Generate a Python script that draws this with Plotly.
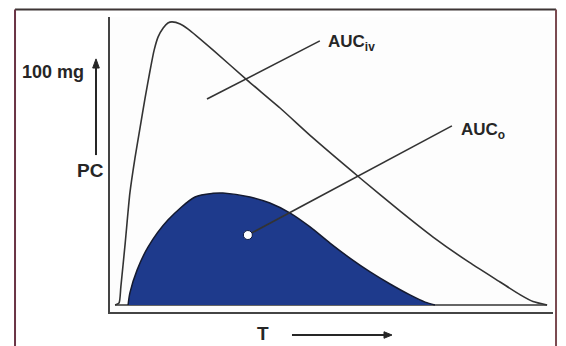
import plotly.graph_objects as go

# ---- data (time in arbitrary units, plasma concentration in % of 100 mg dose) ----
iv_t = [0.14, 0.25, 0.30, 0.42, 0.55, 0.69, 0.83, 0.97, 1.11, 1.22, 1.33, 1.47, 1.60, 1.71,
        1.94, 2.16, 2.85, 3.79, 4.70, 5.61, 6.91, 8.02, 8.93, 9.87, 10.78, 11.33, 11.69, 12.08]
iv_c = [0.0, 0.7, 6.3, 21.5, 38.9, 51.0, 61.5, 71.9, 81.6, 88.5, 93.1, 96.2, 97.9, 98.3,
        97.6, 95.8, 88.5, 78.1, 68.4, 58.0, 44.1, 32.6, 23.6, 15.3, 8.0, 3.6, 1.2, 0.0]

oral_t = [0.50, 0.55, 0.75, 1.05, 1.60, 2.35, 2.85, 3.12, 3.87, 4.42, 4.98,
          5.53, 6.08, 6.63, 7.19, 7.74, 8.29, 8.71, 8.98]
oral_c = [0.0, 4.2, 12.2, 20.1, 29.5, 37.5, 38.8, 38.9, 37.5, 35.4, 31.9,
          27.1, 21.5, 16.3, 11.5, 7.3, 3.5, 1.0, 0.0]

label_iv = "AUC<sub>iv</sub>"
label_o = "AUC<sub>o</sub>"
label_dose = "100 mg"
label_y = "PC"
label_x = "T"

# leader lines: (from point) -> (to point near label)
leader_iv = [(2.68, 71.5), (5.80, 91.7)]
leader_o = [(3.81, 24.3), (9.45, 62.2)]

FONT = "Liberation Sans, Arial, sans-serif"
INK = "#262626"
NAVY = "#1e3a8c"

fig = go.Figure()

# baseline under curves
fig.add_trace(go.Scatter(x=[iv_t[0], iv_t[-1]], y=[0, 0], mode="lines",
                         line=dict(color="#333", width=1.5), hoverinfo="skip"))
# oral curve (filled)
fig.add_trace(go.Scatter(x=oral_t, y=oral_c, mode="lines", fill="tozeroy",
                         fillcolor=NAVY,
                         line=dict(color="#141a30", width=1.5, shape="spline", smoothing=0.8),
                         hoverinfo="skip"))
# iv curve
fig.add_trace(go.Scatter(x=iv_t, y=iv_c, mode="lines",
                         line=dict(color="#333", width=1.6, shape="spline", smoothing=0.6),
                         hoverinfo="skip"))
# leader lines
fig.add_trace(go.Scatter(x=[p[0] for p in leader_iv], y=[p[1] for p in leader_iv], mode="lines",
                         line=dict(color="#333", width=1.6), hoverinfo="skip"))
fig.add_trace(go.Scatter(x=[p[0] for p in leader_o], y=[p[1] for p in leader_o], mode="lines",
                         line=dict(color="#333", width=1.6), hoverinfo="skip"))
# white dot
fig.add_trace(go.Scatter(x=[leader_o[0][0]], y=[leader_o[0][1]], mode="markers",
                         marker=dict(color="white", size=9, line=dict(color="#0d1a40", width=1)),
                         hoverinfo="skip"))

annotations = [
    dict(x=leader_iv[1][0] + 0.17, y=leader_iv[1][1] - 0.7, xref="x", yref="y", text=label_iv,
         showarrow=False, xanchor="left", yanchor="middle",
         font=dict(size=17, color=INK, family=FONT, weight="bold")),
    dict(x=leader_o[1][0] + 0.19, y=leader_o[1][1] - 1.7, xref="x", yref="y", text=label_o,
         showarrow=False, xanchor="left", yanchor="middle",
         font=dict(size=17, color=INK, family=FONT, weight="bold")),
    dict(x=-0.054, y=0.8136, xref="paper", yref="paper", text=label_dose, showarrow=False,
         xanchor="right", yanchor="middle", font=dict(size=18, color=INK, family=FONT, weight="bold")),
    dict(x=-0.009, y=0.478, xref="paper", yref="paper", text=label_y, showarrow=False,
         xanchor="right", yanchor="middle", font=dict(size=19, color=INK, family=FONT, weight="bold")),
    dict(x=0.345, y=-0.0714, xref="paper", yref="paper", text=label_x, showarrow=False,
         xanchor="center", yanchor="middle", font=dict(size=19, color=INK, family=FONT, weight="bold")),
]

# arrows (paper coordinates relative to the plot area)
vx, vy0, vy1, vyb = -0.0316, 0.532, 0.858, 0.827
hy, hx0, hx1, hxb = -0.078, 0.4108, 0.6366, 0.6185
shapes = [
    # frame
    dict(type="line", xref="paper", yref="paper", x0=-0.2144, x1=1.0068, y0=1.0254, y1=1.0254,
         line=dict(color="#3d3535", width=2)),
    dict(type="line", xref="paper", yref="paper", x0=-0.2144, x1=-0.2144, y0=1.0254, y1=-0.2,
         line=dict(color="#6a3445", width=2)),
    dict(type="line", xref="paper", yref="paper", x0=1.0068, x1=1.0068, y0=1.0254, y1=-0.2,
         line=dict(color="#7a4a50", width=2)),
    # vertical arrow
    dict(type="line", xref="paper", yref="paper", x0=vx, x1=vx, y0=vy0, y1=vyb + 0.005,
         line=dict(color=INK, width=2)),
    dict(type="path", xref="paper", yref="paper",
         path=f"M {vx-0.0075},{vyb} L {vx+0.0075},{vyb} L {vx},{vy1} Z",
         fillcolor=INK, line=dict(color=INK, width=1)),
    # horizontal arrow
    dict(type="line", xref="paper", yref="paper", x0=hx0, x1=hxb + 0.004, y0=hy, y1=hy,
         line=dict(color=INK, width=2)),
    dict(type="path", xref="paper", yref="paper",
         path=f"M {hxb},{hy-0.011} L {hxb},{hy+0.011} L {hx1},{hy} Z",
         fillcolor=INK, line=dict(color=INK, width=1)),
]

fig.update_layout(
    width=566, height=346,
    margin=dict(l=102, r=21, t=9, b=42),
    paper_bgcolor="white", plot_bgcolor="#fdfdfd",
    showlegend=False,
    annotations=annotations, shapes=shapes,
    xaxis=dict(range=[0, 12.244], showgrid=False, zeroline=False, showticklabels=False, ticks="",
               showline=True, linecolor="#444", linewidth=2, fixedrange=True),
    yaxis=dict(range=[-2.43, 100], showgrid=False, zeroline=False, showticklabels=False, ticks="",
               showline=True, linecolor="#444", linewidth=2, fixedrange=True),
)

fig.write_html("out.html", config={"displayModeBar": False})
